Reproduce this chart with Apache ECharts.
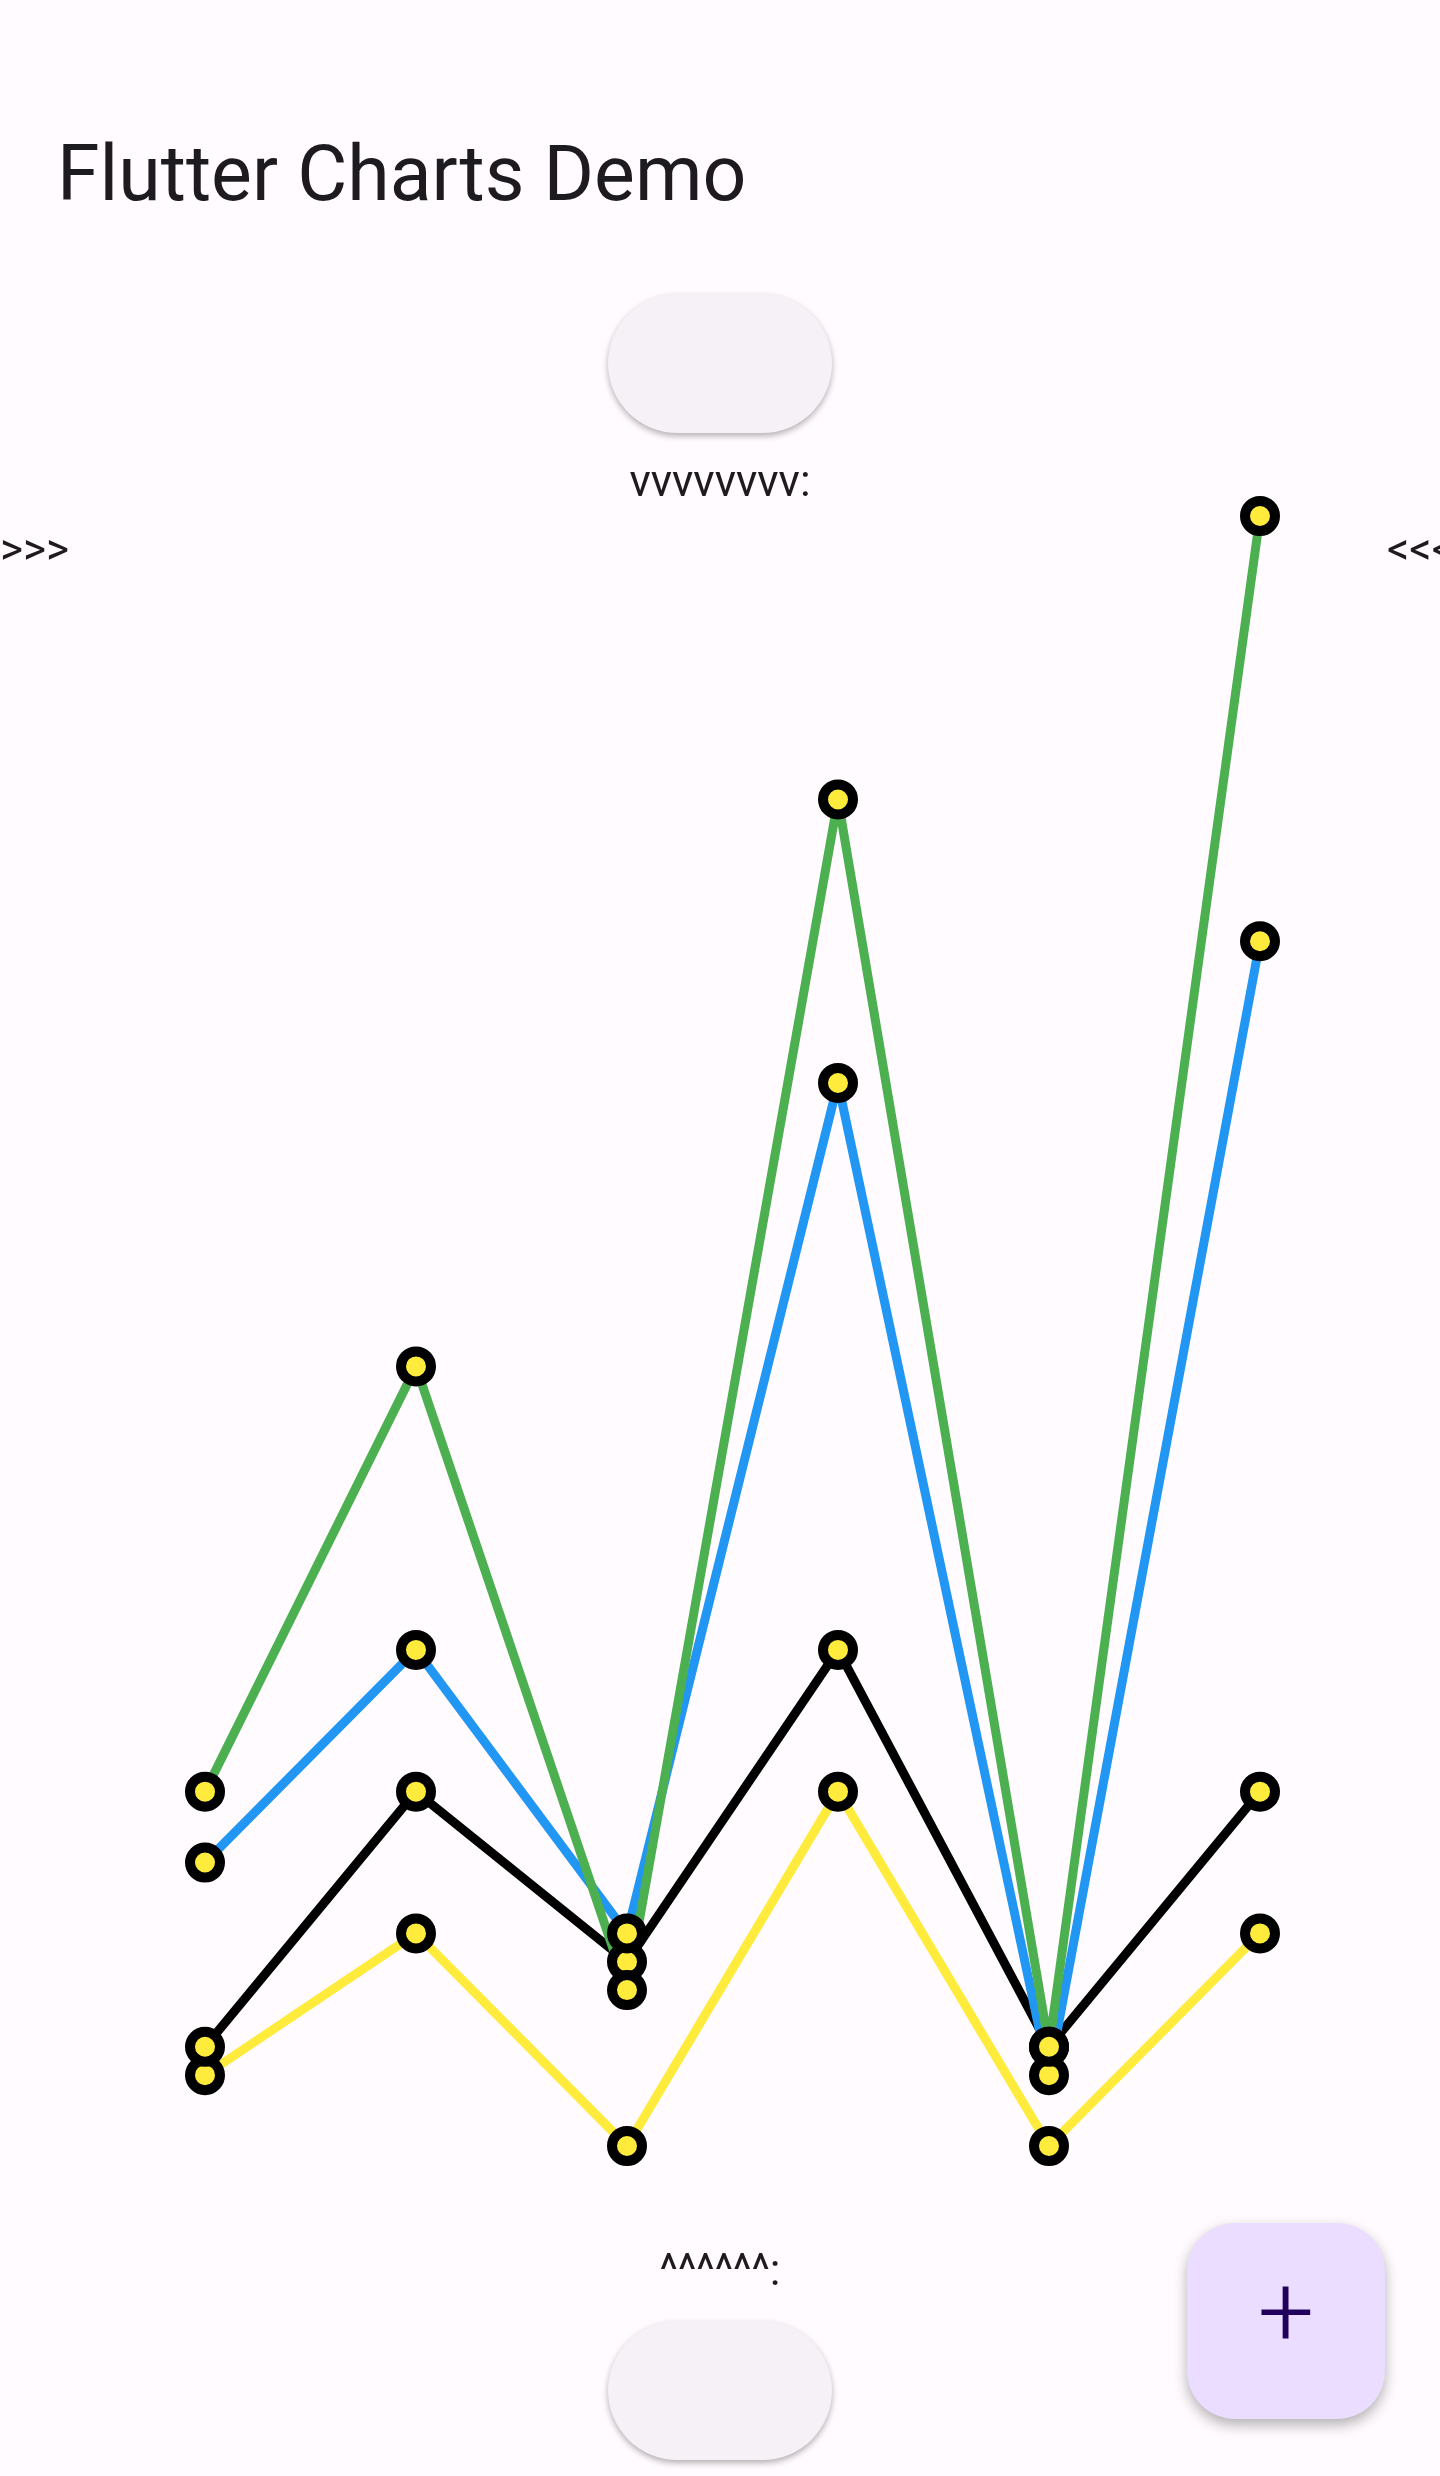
<!DOCTYPE html>
<html>
<head>
<meta charset="utf-8">
<script src="https://cdn.jsdelivr.net/npm/echarts@6/dist/echarts.min.js"></script>
<style>
  html, body { margin: 0; padding: 0; background: #fffbfe; }
  #chart { width: 1440px; height: 2476px; }
</style>
</head>
<body>
<div id="chart"></div>
<script>
var categories = ['1', '2', '3', '4', '5', '6'];
var yellowData = [1, 3, 0, 5, 0, 3];
var blackData = [1.4, 5, 2.6, 7, 1.4, 5];
var blueData = [4, 7, 3.0, 15, 1.0, 17];
var greenData = [5, 11, 2.2, 19, 1.4, 23];

var chart = echarts.init(document.getElementById('chart'));

function lineSeries(name, color, data) {
    return {
        name: name,
        type: 'line',
        data: data,
        symbol: 'circle',
        symbolSize: 30,
        lineStyle: { color: color, width: 9 },
        itemStyle: { color: '#ffeb3b', borderColor: '#000', borderWidth: 10 },
        emphasis: { disabled: true },
        animation: false
    };
}

var pillShadow = { shadowBlur: 6, shadowOffsetY: 3, shadowColor: 'rgba(0,0,0,0.3)' };

option = {
    backgroundColor: '#fffbfe',
    grid: { left: 205, right: 180, top: 516, bottom: 330 },
    xAxis: { type: 'category', data: categories, boundaryGap: false, show: false },
    yAxis: { type: 'value', min: 0, max: 23, show: false },
    series: [
        lineSeries('yellow', '#ffeb3b', yellowData),
        lineSeries('black', '#000000', blackData),
        lineSeries('blue', '#2196f3', blueData),
        lineSeries('green', '#4caf50', greenData)
    ],
    graphic: [
        { type: 'text', left: 57, top: 142, style: { text: 'Flutter Charts Demo', font: '77px Roboto', fill: '#1d1b20' } },
        { type: 'rect', shape: { x: 608, y: 294, width: 224, height: 139, r: 70 },
          style: Object.assign({ fill: '#f5f1f7' }, pillShadow) },
        { type: 'text', style: { x: 720, y: 485, text: 'vvvvvvvv:', font: '44px Roboto', fill: '#1d1b20', align: 'center', verticalAlign: 'middle' } },
        { type: 'text', style: { x: 0, y: 553, text: '>>>', font: '44px Roboto', fill: '#1d1b20', verticalAlign: 'middle' } },
        { type: 'text', style: { x: 1387, y: 553, text: '<<<', font: '44px Roboto', fill: '#1d1b20', verticalAlign: 'middle' } },
        { type: 'text', style: { x: 720, y: 2274, text: '^^^^^^:', font: '44px Roboto', fill: '#1d1b20', align: 'center', verticalAlign: 'middle' } },
        { type: 'rect', shape: { x: 608, y: 2321, width: 224, height: 139, r: 70 },
          style: Object.assign({ fill: '#f5f1f7' }, pillShadow) },
        { type: 'rect', shape: { x: 1187, y: 2223, width: 198, height: 196, r: 48 },
          style: { fill: '#eaddff', shadowBlur: 14, shadowOffsetY: 6, shadowColor: 'rgba(0,0,0,0.3)' } },
        { type: 'text', style: { x: 1286, y: 2321, text: '+', font: '300 100px Roboto', fill: '#21005d', align: 'center', verticalAlign: 'middle' } }
    ]
};

chart.setOption(option);
</script>
</body>
</html>
